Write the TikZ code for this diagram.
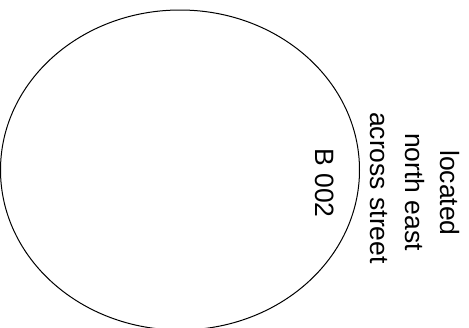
\documentclass[tikz,border=0pt]{standalone}
\usepackage{fontspec}
\setmainfont{Liberation Sans}
\usetikzlibrary{shapes.geometric}
\tikzset{
  lbl/.style={anchor=base, rotate=-90, inner sep=0pt, font=\fontsize{26.5}{32}\selectfont},
  blob/.style={draw=black, line width=1pt, ellipse, inner sep=0pt, outer sep=0pt,
    minimum width=359pt, minimum height=320pt}
}
\begin{document}
\begin{tikzpicture}[x=1pt,y=-1pt]
\useasboundingbox (0,0) rectangle (469,327);
\clip (0,0) rectangle (469,327);
\node[blob] (room) at (180,170) {};
\node[lbl] (b002) at (315,183) {B 002};
\node[lbl] (l1) at (440,193) {located};
\node[lbl] (l2) at (405,192) {north east};
\node[lbl] (l3) at (370,188) {across street};
\end{tikzpicture}
\end{document}
